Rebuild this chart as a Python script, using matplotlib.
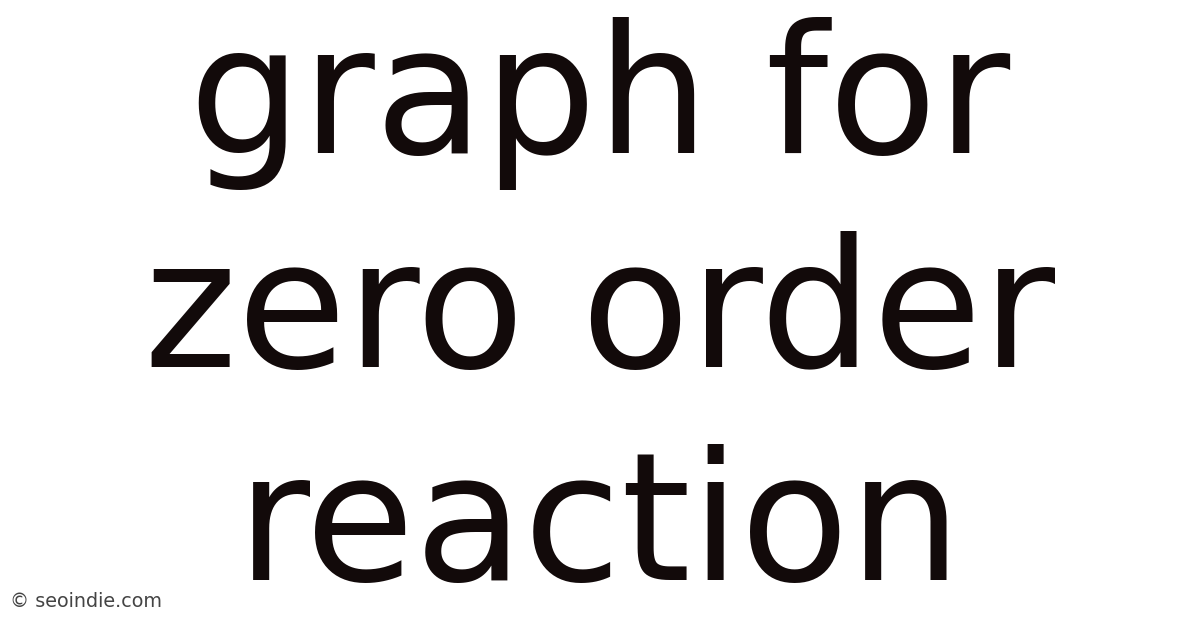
import matplotlib
matplotlib.use("Agg")
import matplotlib.pyplot as plt

lines = ["graph for", "zero order", "reaction"]
baselines_px = [153, 367, 580]
watermark = "© seoindie.com"

W, H = 1200, 628
fig = plt.figure(figsize=(W / 100, H / 100), dpi=100)
fig.patch.set_facecolor("white")

for text, by in zip(lines, baselines_px):
    fig.text(0.5, 1 - by / H, text, ha="center", va="baseline",
             fontsize=128, family="DejaVu Sans", color="#120a0a")

fig.text(10 / W, 1 - 607 / H, watermark, ha="left", va="baseline",
         fontsize=13.8, family="DejaVu Sans", color="#444444")

fig.savefig("out.png", dpi=100, facecolor="white")
